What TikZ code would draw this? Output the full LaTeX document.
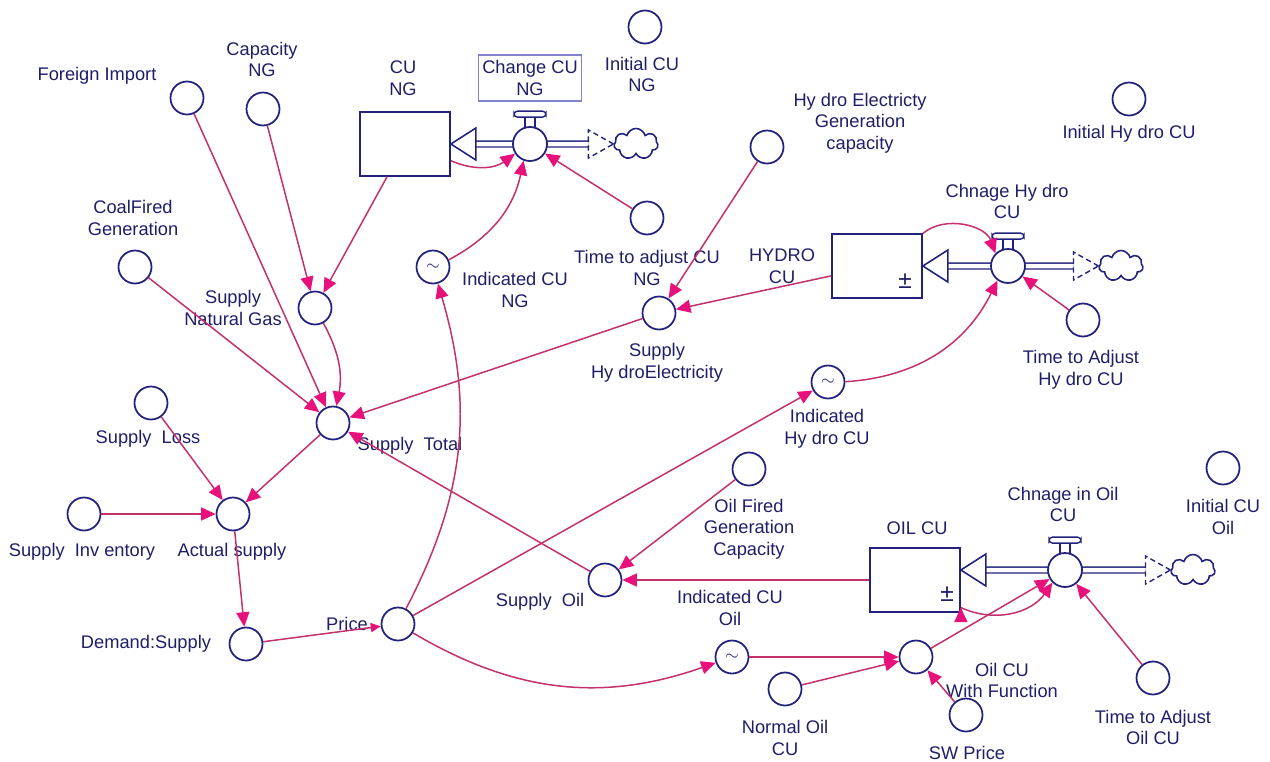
\documentclass[tikz,border=0pt]{standalone}
\usepackage{fontspec}
\setmainfont{Liberation Sans}
\usetikzlibrary{arrows.meta,shapes.symbols,backgrounds}
\definecolor{navy}{RGB}{34,34,125}
\definecolor{txtblue}{RGB}{30,30,105}
\definecolor{linkred}{RGB}{196,48,108}
\definecolor{tippink}{RGB}{232,16,122}
\definecolor{boxblue}{RGB}{130,130,205}

\begin{document}
\begin{tikzpicture}[x=0.02cm,y=-0.02cm,
    var/.style={circle,draw=navy,line width=1pt,minimum size=0.66cm,inner sep=0pt,fill=white},
    valve/.style={var,minimum size=0.68cm},
    stock/.style={rectangle,draw=navy,line width=1pt,minimum width=1.8cm,minimum height=1.27cm,inner sep=0pt,fill=white},
    cloudy/.style={cloud,cloud puffs=7,aspect=1.45,draw=navy,line width=0.9pt,minimum width=0.88cm,minimum height=0.62cm,inner sep=0pt},
    lbl/.style={text=txtblue,font=\fontsize{10.4}{12.3}\selectfont,align=center,inner sep=0pt},
    link/.style={draw=linkred,line width=0.85pt,-{Triangle[length=0.29cm,width=0.26cm,color=tippink]}},
    pipe/.style={draw=navy,double=white,double distance=0.09cm,line width=0.75pt}]
    \useasboundingbox (0,0) rectangle (1270,761);

    % stocks, valves and clouds
    \node[stock] (cung) at (405,144) {};
    \node[stock] (hydcu) at (877,266) {};
    \node[stock] (oilcu) at (915,580) {};
    \node[valve] (ngvalve) at (530,144) {};
    \node[valve] (hydvalve) at (1008,266) {};
    \node[valve] (oilvalve) at (1065,570) {};
    \node[cloudy] (ngcloud) at (636,144) {};
    \node[cloudy] (hydcloud) at (1121,266) {};
    \node[cloudy] (oilcloud) at (1193,570) {};
    \node[lbl,font=\fontsize{14}{14}\selectfont] (hydpm) at (905,281) {±};
    \node[lbl,font=\fontsize{14}{14}\selectfont] (oilpm) at (947,594) {±};

    \begin{scope}[on background layer]
    \foreach \stk/\vlv/\cld in {cung/ngvalve/ngcloud,hydcu/hydvalve/hydcloud,oilcu/oilvalve/oilcloud}{
        \draw[pipe] (\stk.east |- \vlv) ++(25,0) -- ([xshift=-0.5cm]\cld.west);
        \draw[navy,line width=0.9pt,fill=white] (\stk.east |- \vlv) -- ++(25,-16) -- ++(0,32) -- cycle;
        \draw[navy,line width=0.8pt,dash pattern=on 3pt off 2pt] (\cld.west) -- ++(-25,-14) -- ++(0,28) -- cycle;
    }
    \end{scope}
    \foreach \vlv in {ngvalve,hydvalve,oilvalve}{
        \draw[navy,line width=0.8pt] (\vlv.north) ++(-5,1) -- ++(0,-10) ++(10,0) -- ++(0,10);
        \draw[navy,line width=0.8pt,fill=white,rounded corners=2pt] (\vlv.north) ++(-16,-9) rectangle ++(32,-6);
    }

    % variables
    \node[var] (forimp) at (187,98) {};
    \node[var] (capng) at (263,109) {};
    \node[var] (coal) at (135,267) {};
    \node[var] (supng) at (315,308) {};
    \node[var] (suptot) at (333,423) {};
    \node[var] (suploss) at (151,403) {};
    \node[var] (supinv) at (84,514) {};
    \node[var] (actsup) at (233,514) {};
    \node[var] (demsup) at (246,644) {};
    \node[var] (price) at (398,624) {};
    \node[var,text=navy] (indcung) at (433,267) {$\sim$};
    \node[var] (initcung) at (645,27) {};
    \node[var] (tadjng) at (647,218) {};
    \node[var] (hydcap) at (767,147) {};
    \node[var] (suphyd) at (659,313) {};
    \node[var] (inithyd) at (1129,99) {};
    \node[var] (tadjhyd) at (1083,320) {};
    \node[var,text=navy] (indhyd) at (828,382) {$\sim$};
    \node[var] (oilcap) at (749,469) {};
    \node[var] (supoil) at (605,580) {};
    \node[var] (initoil) at (1223,468) {};
    \node[var,text=navy] (indoil) at (732,657) {$\sim$};
    \node[var] (oilfn) at (916,657) {};
    \node[var] (normoil) at (785,689) {};
    \node[var] (swprice) at (966,715) {};
    \node[var] (tadjoil) at (1153,678) {};

    % labels
    \node[lbl] (forimplbl) at (97,76) {Foreign Import};
    \node[lbl] (capnglbl) at (262,59.5) {Capacity\\NG};
    \node[lbl] (cunglbl) at (403,78.5) {CU\\NG};
    \node[lbl,draw=boxblue,line width=0.6pt,minimum width=2.06cm,minimum height=0.92cm] (ngvalvelbl) at (530,78) {Change CU\\NG};
    \node[lbl] (initcunglbl) at (642,74.5) {Initial CU\\NG};
    \node[lbl] (hydcaplbl) at (860,123) {Hy dro Electricty\\Generation\\capacity};
    \node[lbl] (inithydlbl) at (1129,134) {Initial Hy dro CU};
    \node[lbl] (coallbl) at (133,218) {CoalFired\\Generation};
    \node[lbl] (hydvalvelbl) at (1007,201.5) {Chnage Hy dro\\CU};
    \node[lbl] (supnglbl) at (233,308) {Supply\\Natural Gas};
    \node[lbl] (indcunglbl) at (515,290) {Indicated CU\\NG};
    \node[lbl] (tadjnglbl) at (647,268) {Time to adjust CU\\NG};
    \node[lbl] (hydculbl) at (782,266.5) {HYDRO\\CU};
    \node[lbl] (suphydlbl) at (657,362.5) {Supply\\Hy droElectricity};
    \node[lbl] (tadjhydlbl) at (1081,369.5) {Time to Adjust\\Hy dro CU};
    \node[lbl] (suptotlbl) at (410,446) {Supply\ \ Total};
    \node[lbl] (suplosslbl) at (148,439) {Supply\ \ Loss};
    \node[lbl] (indhydlbl) at (827,429) {Indicated\\Hy dro CU};
    \node[lbl] (oilcaplbl) at (749,529) {Oil Fired\\Generation\\Capacity};
    \node[lbl] (oilculbl) at (917,528) {OIL CU};
    \node[lbl] (oilvalvelbl) at (1063,504.5) {Chnage in Oil\\CU};
    \node[lbl] (initoillbl) at (1223,517) {Initial CU\\Oil};
    \node[lbl] (supinvlbl) at (82,552) {Supply\ \ Inv entory};
    \node[lbl] (actsuplbl) at (232,552) {Actual supply};
    \node[lbl] (supoillbl) at (540,602) {Supply\ \ Oil};
    \node[lbl] (indoillbl) at (730,608) {Indicated CU\\Oil};
    \node[lbl] (demsuplbl) at (146,644) {Demand:Supply};
    \node[lbl] (pricelbl) at (347,624) {Price};
    \node[lbl] (oilfnlbl) at (1002,680.5) {Oil CU\\With Function};
    \node[lbl] (normoillbl) at (785,738) {Normal Oil\\CU};
    \node[lbl] (tadjoillbl) at (1153,727.5) {Time to Adjust\\Oil CU};
    \node[lbl] (swpricelbl) at (967,753) {SW Price};

    % causal links
    \path[link]
        (forimp) edge (suptot)
        (coal) edge (suptot)
        (supng) edge[bend left=20] (suptot)
        (capng) edge (supng)
        (cung) edge (supng)
        (suphyd) edge (suptot)
        (supoil) edge (suptot)
        (suptot) edge (actsup)
        (suploss) edge (actsup)
        (supinv) edge (actsup)
        (actsup) edge (demsup)
        (demsup) edge[-{Triangle[length=0.2cm,width=0.18cm,color=tippink]}] (price)
        (price) edge[bend right=22] (indcung)
        (price) edge (indhyd)
        (price) edge[bend right=25] (indoil)
        (indcung) edge[bend right=25] (ngvalve.249)
        (cung.-20) edge[bend right=30] (ngvalve.213)
        (tadjng) edge (ngvalve)
        (hydcap) edge (suphyd)
        (hydcu) edge (suphyd)
        (hydcu.north east) edge[bend left=55] (hydvalve.135)
        (indhyd) edge[bend right=30] (hydvalve.234)
        (tadjhyd) edge (hydvalve)
        (oilcap) edge (supoil)
        (oilcu) edge (supoil)
        (indoil) edge (oilfn)
        (normoil) edge (oilfn)
        (swprice) edge (oilfn)
        (oilfn) edge (oilvalve)
        (oilcu.-31) edge[bend right=40] (oilvalve.225)
        (tadjoil) edge (oilvalve)
        ;
\end{tikzpicture}
\end{document}
